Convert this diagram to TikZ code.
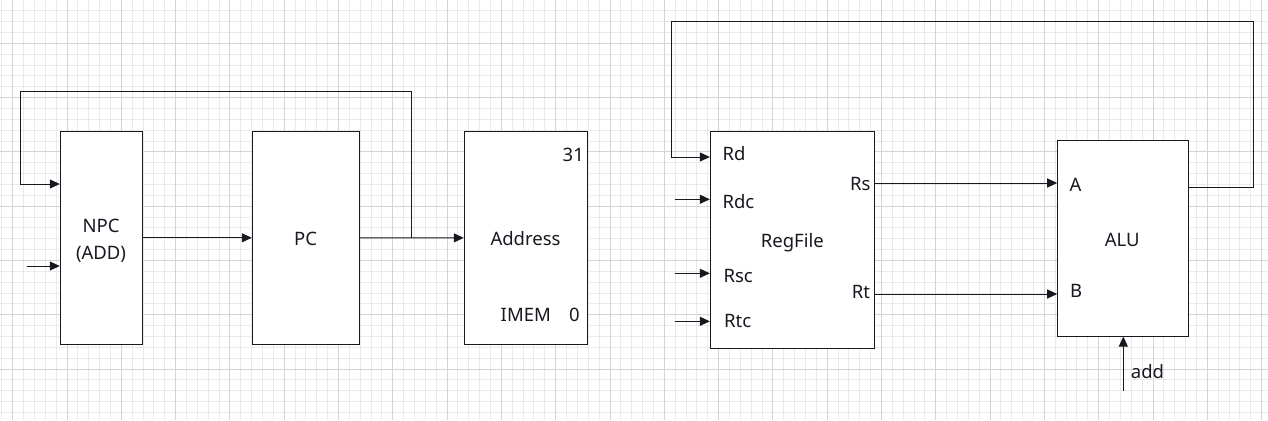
\documentclass[tikz,border=0pt]{standalone}
\usepackage{fontspec}
\setmainfont{Noto Sans}
\usetikzlibrary{arrows.meta}
\definecolor{gridminor}{RGB}{234,234,234}
\definecolor{gridmajor}{RGB}{212,212,212}
\definecolor{ink}{RGB}{24,24,32}
\tikzset{
  blockbox/.style={draw=ink, fill=white, line width=1pt, inner sep=0pt},
  lbl/.style={font=\fontsize{18.5}{20}\selectfont, text=ink, inner sep=0pt, text height=13.2pt, text depth=0pt},
  wire/.style={draw=ink, line width=1pt},
  arr/.style={wire, -{Triangle[length=10pt,width=9pt]}},
  gminor/.style={draw=gridminor, line width=1pt},
  gmajor/.style={draw=gridmajor, line width=1pt},
}
\begin{document}
\begin{tikzpicture}[x=1pt,y=-1pt]
\useasboundingbox (0,0) rectangle (1268,420);
\fill[white] (0,0) rectangle (1268,420);
% grid
\begin{scope}
\clip (0,0) rectangle (1268,420);
\foreach \i in {0,...,117} {\draw[gminor] ({1.84+\i*10.86},0) -- ++(0,420);}
\foreach \i in {0,...,39} {\draw[gminor] (0,{-0.14+\i*10.86}) -- ++(1268,0);}
\foreach \i in {0,...,23} {\draw[gmajor] ({12.7+\i*54.3},0) -- ++(0,420);}
\foreach \i in {-1,...,7} {\draw[gmajor] (0,{43.3+\i*54.3}) -- ++(1268,0);}
\end{scope}
% blocks
\node[blockbox, minimum width=82pt, minimum height=213pt] (npc) at (101.3,237.8) {};
\node[blockbox, minimum width=107pt, minimum height=213pt] (pc) at (305.8,237.8) {};
\node[blockbox, minimum width=123pt, minimum height=212.3pt] (imem) at (525.8,237.9) {};
\node[blockbox, minimum width=163.7pt, minimum height=216.6pt] (rf) at (792.2,240) {};
\node[blockbox, minimum width=131pt, minimum height=195.3pt] (alu) at (1123.2,238.4) {};
% labels
\node[lbl] (tnpc) at (101,225.5) {NPC};
\node[lbl] (tadd) at (101,253.3) {(ADD)};
\node[lbl] (tpc) at (305.5,239.3) {PC};
\node[lbl] (t31) at (573.3,154.5) {31};
\node[lbl] (taddr) at (525.5,239) {Address};
\node[lbl] (timem) at (525.8,315.3) {IMEM};
\node[lbl] (t0) at (574.3,315.3) {0};
\node[lbl, anchor=west] (trd) at (722.3,154) {Rd};
\node[lbl, anchor=west] (trdc) at (722.3,202.3) {Rdc};
\node[lbl] (trf) at (792.3,241) {RegFile};
\node[lbl, anchor=west] (trsc) at (723.3,276.2) {Rsc};
\node[lbl, anchor=west] (trtc) at (724,321.2) {Rtc};
\node[lbl, anchor=east] (trs) at (870.7,183.8) {Rs};
\node[lbl, anchor=east] (trt) at (870.3,292) {Rt};
\node[lbl, anchor=west] (ta) at (1069.3,184.7) {A};
\node[lbl, anchor=west] (tb) at (1070,290.8) {B};
\node[lbl] (talu) at (1122.2,239.5) {ALU};
\node[lbl, anchor=west] (taddop) at (1130.7,371.5) {add};
% connector end points
\coordinate (npcin) at (26.7,266);
\coordinate (j) at (411.5,237.9);
\coordinate (lt) at (20.7,91.3);
\coordinate (rdcin) at (674.7,199.3);
\coordinate (rscin) at (674.7,273.3);
\coordinate (rtcin) at (674.7,321.3);
\coordinate (rtop) at (1253.3,21.7);
\coordinate (ltop) at (671.3,21.7);
\coordinate (addin) at (1123.3,390.7);
% connectors
\draw[arr] (npc) -- (pc);
\draw[arr] (pc) -- (imem);
\draw[arr] (j) |- (lt) |- (npc.west |- 0,184);
\draw[arr] (npcin) -- (npc.west |- npcin);
\draw[arr] (rdcin) -- (rf.west |- rdcin);
\draw[arr] (rscin) -- (rf.west |- rscin);
\draw[arr] (rtcin) -- (rf.west |- rtcin);
\draw[arr] (rf.east |- 0,183) -- (alu.west |- 0,183);
\draw[arr] (rf.east |- 0,294) -- (alu.west |- 0,294);
\draw[arr] (alu.east |- 0,187.3) -| (rtop) -- (ltop) |- (rf.west |- 0,157);
\draw[arr] (addin) -- (alu.south -| addin);
\end{tikzpicture}
\end{document}
